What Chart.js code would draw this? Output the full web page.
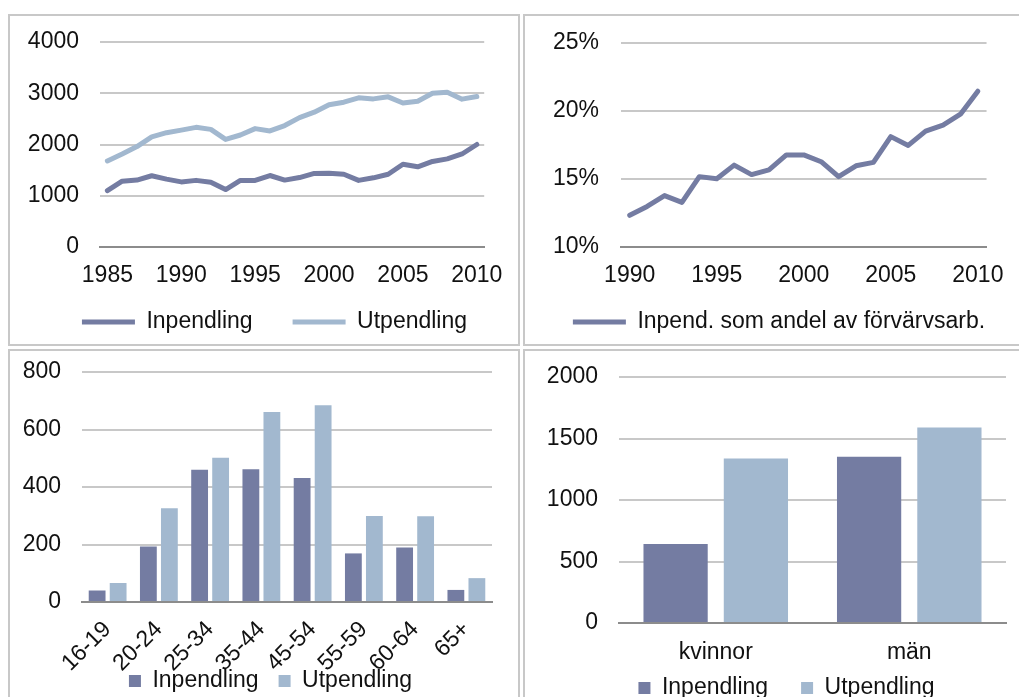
<!DOCTYPE html>
<html>
<head>
<meta charset="utf-8">
<script src="https://cdn.jsdelivr.net/npm/chart.js@4/dist/chart.umd.min.js"></script>
<style>
  body { margin: 0; background: #fff; overflow: hidden; }
  .panel { position: absolute; border: 2px solid #c8c8c8; box-sizing: border-box; overflow: hidden; }
  .panel canvas { position: absolute; left: 0; top: 0; }
</style>
</head>
<body>
<div class="panel" style="left:8px;top:14px;width:512px;height:332px;"><canvas id="c1" width="508" height="328"></canvas></div>
<div class="panel" style="left:523px;top:14px;width:510px;height:332px;"><canvas id="c2" width="494" height="328"></canvas></div>
<div class="panel" style="left:8px;top:349px;width:512px;height:370px;"><canvas id="c3" width="508" height="352"></canvas></div>
<div class="panel" style="left:523px;top:349px;width:510px;height:370px;"><canvas id="c4" width="494" height="359"></canvas></div>
<script>
var years = [1985,1986,1987,1988,1989,1990,1991,1992,1993,1994,1995,1996,1997,1998,1999,2000,2001,2002,2003,2004,2005,2006,2007,2008,2009,2010];
var inpendling = [1100,1285,1305,1390,1325,1270,1300,1265,1120,1300,1300,1395,1305,1355,1435,1440,1420,1300,1350,1420,1615,1565,1670,1720,1815,2000];
var utpendling = [1680,1815,1960,2150,2230,2280,2335,2295,2100,2185,2310,2265,2370,2525,2630,2775,2825,2910,2890,2930,2810,2845,3000,3020,2885,2935];

var shareYears = [1990,1991,1992,1993,1994,1995,1996,1997,1998,1999,2000,2001,2002,2003,2004,2005,2006,2007,2008,2009,2010];
var share = [12.3,12.95,13.75,13.25,15.15,15.0,16.0,15.3,15.65,16.75,16.75,16.25,15.15,15.95,16.2,18.1,17.45,18.5,18.95,19.75,21.45];

var ageGroups = ["16-19","20-24","25-34","35-44","45-54","55-59","60-64","65+"];
var ageIn = [40,193,460,462,431,169,190,42];
var ageUt = [66,326,502,661,684,299,298,83];

var sexes = ["kvinnor","män"];
var sexIn = [643,1351];
var sexUt = [1338,1589];

var darkBlue = "#747ca2";
var lightBlue = "#a2b8cf";

Chart.defaults.font.family = "'Liberation Sans', Arial, sans-serif";
Chart.defaults.font.size = 23;
Chart.defaults.color = "#111";

function flatLegend(chart) {
  var items = Chart.defaults.plugins.legend.labels.generateLabels(chart);
  items.forEach(function (it) { it.lineWidth = 0; });
  return items;
}

// move the legend after layout: dx sideways, cy = wanted middle of the text row
function legendMover(dx, cy) {
  return {
    id: "legendMover",
    afterLayout: function (chart) {
      var lg = chart.legend;
      var dy = cy - (lg.top + lg.options.labels.padding + 11.5);
      lg.top += dy;
      lg.left += dx; lg.right += dx;
    }
  };
}

function yAxis(min, max, step, width, pad, fmt) {
  return {
    min: min, max: max,
    afterFit: function (s) { s.width = width; s.paddingTop = 0; s.paddingBottom = 0; },
    ticks: { stepSize: step, padding: pad, callback: fmt || function (v) { return v; } },
    grid: { color: "#c8c8c8", lineWidth: 2, drawTicks: false },
    border: { display: false }
  };
}

function xAxis(height, pad, extra) {
  var ax = {
    afterFit: function (s) { s.height = height; },
    grid: { display: false, drawTicks: false },
    border: { color: "#8c8c8c", width: 2 },
    ticks: { padding: pad, maxRotation: 0, autoSkip: false }
  };
  if (extra) Object.assign(ax.ticks, extra);
  return ax;
}

function every5(v) {
  var y = this.getLabelForValue(v);
  return y % 5 === 0 ? y : "";
}

new Chart("c1", {
  type: "line",
  data: {
    labels: years,
    datasets: [{
      label: "Inpendling",
      data: inpendling,
      borderColor: darkBlue,
      backgroundColor: darkBlue,
      borderWidth: 5,
      pointRadius: 0,
      borderCapStyle: "round",
      borderJoinStyle: "round"
    }, {
      label: "Utpendling",
      data: utpendling,
      borderColor: lightBlue,
      backgroundColor: lightBlue,
      borderWidth: 5,
      pointRadius: 0,
      borderCapStyle: "round",
      borderJoinStyle: "round"
    }]
  },
  options: {
    responsive: false,
    animation: false,
    layout: { padding: { left: 10, right: 31, top: 26, bottom: 0 } },
    scales: {
      x: Object.assign(xAxis(45, 15, { callback: every5 }), { offset: true }),
      y: yAxis(0, 4000, 1000, 80, 21)
    },
    plugins: {
      tooltip: { enabled: false },
      legend: {
        position: "bottom",
        maxHeight: 52,
        labels: { boxWidth: 53, boxHeight: 5, padding: 40, generateLabels: flatLegend }
      }
    }
  },
  plugins: [legendMover(21, 306)]
});

new Chart("c2", {
  type: "line",
  data: {
    labels: shareYears,
    datasets: [{
      label: "Inpend. som andel av förvärvsarb.",
      data: share,
      borderColor: darkBlue,
      backgroundColor: darkBlue,
      borderWidth: 5,
      pointRadius: 0,
      borderCapStyle: "round",
      borderJoinStyle: "round"
    }]
  },
  options: {
    responsive: false,
    animation: false,
    layout: { padding: { left: 10, right: 24, top: 27, bottom: 0 } },
    scales: {
      x: Object.assign(xAxis(45, 15, { callback: every5 }), { offset: true }),
      y: yAxis(10, 25, 5, 86, 22, function (v) { return v + "%"; })
    },
    plugins: {
      tooltip: { enabled: false },
      legend: {
        position: "bottom",
        maxHeight: 52.5,
        labels: { boxWidth: 53, boxHeight: 5, padding: 20, generateLabels: flatLegend }
      }
    }
  },
  plugins: [legendMover(14, 306)]
});

new Chart("c3", {
  type: "bar",
  data: {
    labels: ageGroups,
    datasets: [{
      label: "Inpendling",
      data: ageIn,
      backgroundColor: darkBlue,
      categoryPercentage: 0.82,
      barPercentage: 0.8
    }, {
      label: "Utpendling",
      data: ageUt,
      backgroundColor: lightBlue,
      categoryPercentage: 0.82,
      barPercentage: 0.8
    }]
  },
  options: {
    responsive: false,
    animation: false,
    layout: { padding: { left: 5, right: 26, top: 21, bottom: 0 } },
    scales: {
      x: xAxis(70, 14, { maxRotation: 45, minRotation: 45 }),
      y: yAxis(0, 800, 200, 67, 21)
    },
    plugins: {
      tooltip: { enabled: false },
      legend: {
        position: "bottom",
        maxHeight: 31,
        labels: { boxWidth: 12, boxHeight: 12, padding: 20 }
      }
    }
  },
  plugins: [legendMover(17, 330)]
});

new Chart("c4", {
  type: "bar",
  data: {
    labels: sexes,
    datasets: [{
      label: "Inpendling",
      data: sexIn,
      backgroundColor: darkBlue,
      categoryPercentage: 0.83,
      barPercentage: 0.8
    }, {
      label: "Utpendling",
      data: sexUt,
      backgroundColor: lightBlue,
      categoryPercentage: 0.83,
      barPercentage: 0.8
    }]
  },
  options: {
    responsive: false,
    animation: false,
    layout: { padding: { left: 10, right: 13, top: 26, bottom: 0 } },
    scales: {
      x: xAxis(48, 16),
      y: yAxis(0, 2000, 500, 84, 21)
    },
    plugins: {
      tooltip: { enabled: false },
      legend: {
        position: "bottom",
        maxHeight: 39,
        labels: { boxWidth: 12, boxHeight: 12, padding: 33 }
      }
    }
  },
  plugins: [legendMover(16, 337)]
});
</script>
</body>
</html>
